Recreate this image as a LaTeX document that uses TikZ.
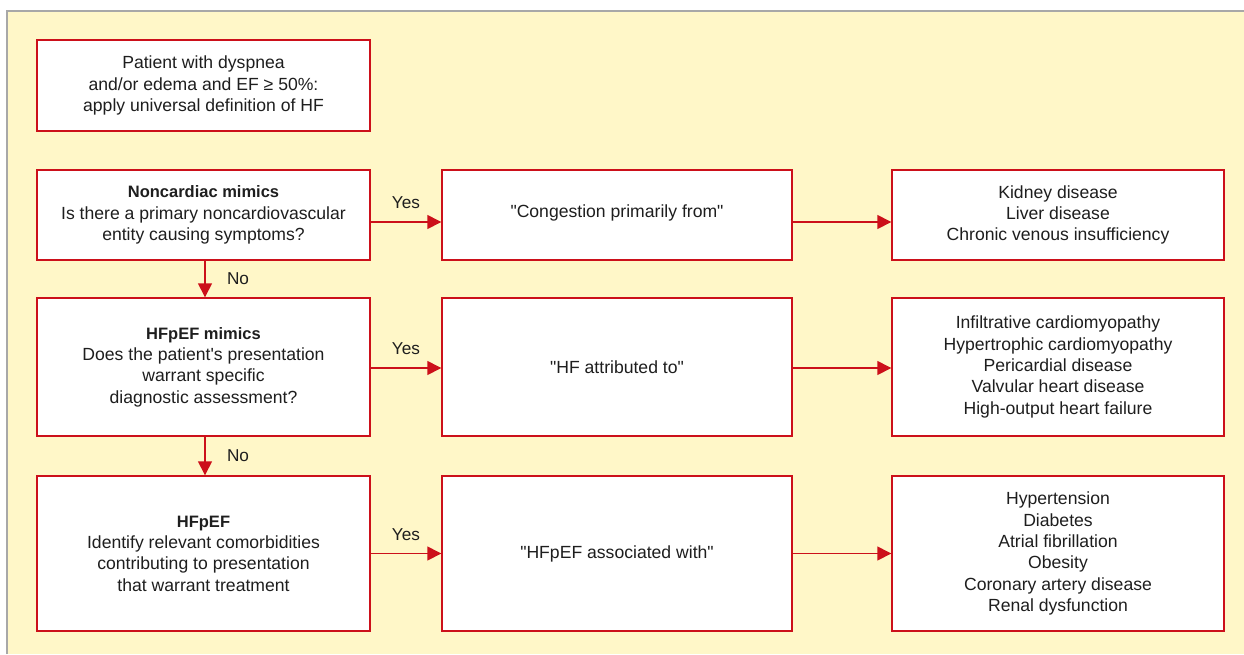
\documentclass[tikz,border=0pt]{standalone}
\usepackage{fontspec}
\setmainfont{Liberation Sans}[Ligatures=TeXOff]
\usetikzlibrary{arrows.meta}
\definecolor{bgyellow}{RGB}{255,247,200}
\definecolor{hfred}{RGB}{204,16,26}
\definecolor{framegray}{RGB}{168,168,168}
\definecolor{txt}{RGB}{30,30,30}
\newcommand{\hd}[1]{{\fontsize{16.5}{21.3}\selectfont\bfseries #1}}
\begin{document}
\begin{tikzpicture}[x=1pt,y=-1pt,
  box/.style={draw=hfred, line width=1.4pt, fill=white, align=center, text=txt,
    font=\fontsize{17.6}{21.3}\selectfont, inner sep=0pt},
  leftbox/.style={box, minimum width=333pt},
  midbox/.style={box, minimum width=350pt},
  rightbox/.style={box, minimum width=332pt},
  conn/.style={draw=hfred, line width=1.4pt, -{Triangle[length=14pt,width=14pt]}},
  lbl/.style={text=txt, font=\fontsize{17.2}{20}\selectfont, inner sep=0pt}
]
\useasboundingbox (0,0) rectangle (1244,654);
\fill[bgyellow] (7,11) rectangle (1244,654);
\draw[framegray, line width=1.2pt] (7,654) -- (7,11) -- (1244,11);

\node[leftbox, minimum height=91pt] (start) at (203.5,85.5)
  {Patient with dyspnea\\and/or edema and EF ≥ 50\%:\\apply universal definition of HF};

\node[leftbox, minimum height=90pt] (l1) at (203.5,215)
  {\hd{Noncardiac mimics}\\Is there a primary noncardiovascular\\entity causing symptoms?};
\node[midbox, minimum height=90pt] (m1) at (617,215) {};
\node[lbl, font=\fontsize{17.6}{20}\selectfont] (m1t) at (617,213) {"Congestion primarily from"};
\node[rightbox, minimum height=90pt] (r1) at (1058,215)
  {Kidney disease\\Liver disease\\Chronic venous insufficiency};

\node[leftbox, minimum height=138pt] (l2) at (203.5,367)
  {\hd{HFpEF mimics}\\Does the patient's presentation\\warrant specific\\diagnostic assessment?};
\node[midbox, minimum height=138pt] (m2) at (617,367) {"HF attributed to"};
\node[rightbox, minimum height=138pt] (r2) at (1058,367)
  {Infiltrative cardiomyopathy\\Hypertrophic cardiomyopathy\\Pericardial disease\\Valvular heart disease\\High-output heart failure};

\node[leftbox, minimum height=155pt] (l3) at (203.5,553.5)
  {\hd{HFpEF}\\Identify relevant comorbidities\\contributing to presentation\\that warrant treatment};
\node[midbox, minimum height=155pt] (m3) at (617,553.5) {"HFpEF associated with"};
\node[rightbox, minimum height=155pt] (r3) at (1058,553.5)
  {Hypertension\\Diabetes\\Atrial fibrillation\\Obesity\\Coronary artery disease\\Renal dysfunction};

\draw[conn] ([yshift=-7pt]l1.east) -- node[lbl, midway, yshift=19pt] {Yes} ([yshift=-7pt]m1.west);
\draw[conn] ([yshift=-7pt]m1.east) -- ([yshift=-7pt]r1.west);
\draw[conn] ([yshift=-1pt]l2.east) -- node[lbl, midway, yshift=19pt] {Yes} ([yshift=-1pt]m2.west);
\draw[conn] ([yshift=-1pt]m2.east) -- ([yshift=-1pt]r2.west);
\draw[conn] (l3.east) -- node[lbl, midway, yshift=19pt] {Yes} (m3.west);
\draw[conn] (m3.east) -- (r3.west);

\draw[conn] ([xshift=1.5pt]l1.south) -- node[lbl, midway, xshift=33pt] {No} ([xshift=1.5pt]l2.north);
\draw[conn] ([xshift=1.5pt]l2.south) -- node[lbl, midway, xshift=33pt] {No} ([xshift=1.5pt]l3.north);
\end{tikzpicture}
\end{document}
